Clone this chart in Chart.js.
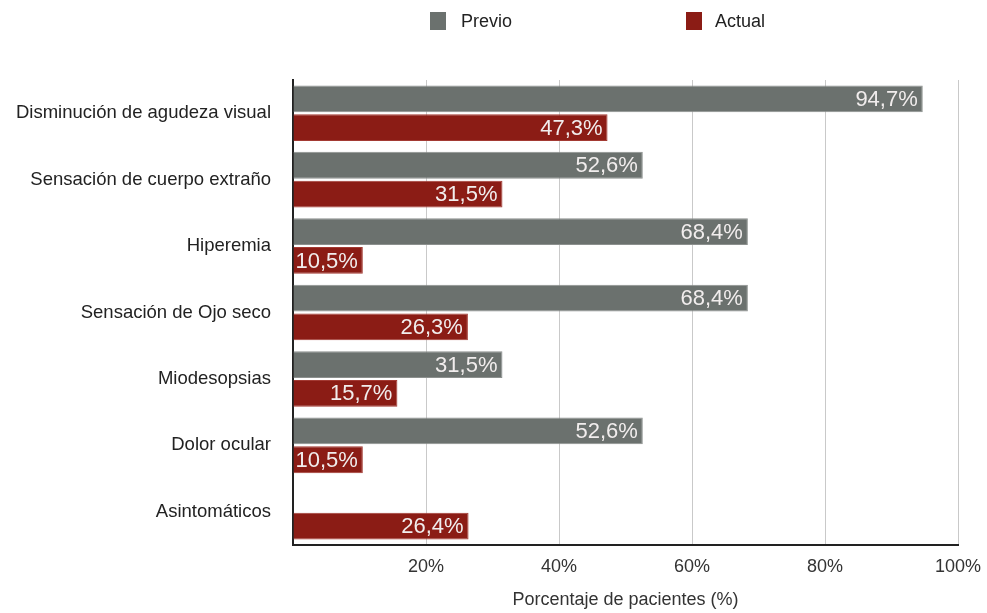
<!DOCTYPE html>
<html>
<head>
<meta charset="utf-8">
<script src="https://cdn.jsdelivr.net/npm/chart.js@4/dist/chart.umd.min.js"></script>
<style>
  body { margin: 0; background: #fff; }
  #wrap { position: relative; width: 987px; height: 613px; font-family: "Liberation Sans", Arial, Helvetica, sans-serif; }
  .key { position: absolute; top: 10px; font-size: 18px; color: #222; line-height: 22px; }
  .key i { position: absolute; left: 0; top: 2px; width: 16px; height: 18px; }
  .key span { position: absolute; white-space: nowrap; }
</style>
</head>
<body>
<div id="wrap">
  <canvas id="chart" width="987" height="613"></canvas>
  <div class="key" style="left:430px"><i style="background:#6b716e"></i><span style="left:31px">Previo</span></div>
  <div class="key" style="left:686px"><i style="background:#8b1c15"></i><span style="left:29px">Actual</span></div>
</div>
<script>
// Síntomas referidos por los pacientes
const sintomas = [
    "Disminución de agudeza visual",
    "Sensación de cuerpo extraño",
    "Hiperemia",
    "Sensación de Ojo seco",
    "Miodesopsias",
    "Dolor ocular",
    "Asintomáticos"
];
const previo = [94.7, 52.6, 68.4, 68.4, 31.5, 52.6, null];
const actual = [47.3, 31.5, 10.5, 26.3, 15.7, 10.5, 26.4];
const xTicks = [20, 40, 60, 80, 100];

const fontFamily = '"Liberation Sans", Arial, Helvetica, sans-serif';

// Valores escritos dentro de cada barra, alineados al extremo
const barValues = {
    id: "barValues",
    afterDatasetsDraw(chart) {
        const ctx = chart.ctx;
        ctx.save();
        ctx.font = "22px " + fontFamily;
        ctx.fillStyle = "#f1eded";
        ctx.textAlign = "right";
        ctx.textBaseline = "middle";
        chart.data.datasets.forEach((ds, i) => {
            chart.getDatasetMeta(i).data.forEach((bar, j) => {
                const v = ds.data[j];
                if (v == null) return;
                ctx.fillText(v.toFixed(1).replace(".", ",") + "%", bar.x - 5, bar.y + 1);
            });
        });
        ctx.restore();
    }
};

new Chart(document.getElementById("chart"), {
    type: "bar",
    data: {
        labels: sintomas,
        datasets: [
            {
                label: "Previo",
                data: previo,
                backgroundColor: "#6b716e",
                borderColor: "#8c908e",
                borderWidth: 1,
                categoryPercentage: 0.867,
                barPercentage: 0.93
            },
            {
                label: "Actual",
                data: actual,
                backgroundColor: "#8b1c15",
                borderColor: "#a33a33",
                borderWidth: 1,
                categoryPercentage: 0.867,
                barPercentage: 0.93
            }
        ]
    },
    options: {
        indexAxis: "y",
        responsive: false,
        animation: false,
        layout: { padding: { top: 80, right: 29, left: 0, bottom: 0 } },
        plugins: {
            legend: { display: false },
            tooltip: { enabled: false }
        },
        scales: {
            x: {
                min: 0,
                max: 100,
                afterBuildTicks: scale => {
                    scale.ticks = [{ value: 0 }].concat(xTicks.map(v => ({ value: v })));
                },
                grid: {
                    color: c => (c.tick && c.tick.value === 0) ? "rgba(0,0,0,0)" : "#c9c9c9",
                    lineWidth: 1,
                    drawTicks: false
                },
                border: { color: "#222", width: 2 },
                ticks: {
                    padding: 11,
                    color: "#333",
                    font: { family: fontFamily, size: 18 },
                    callback: v => v === 0 ? "" : v + "%"
                },
                title: {
                    display: true,
                    text: "Porcentaje de pacientes (%)",
                    color: "#333",
                    font: { family: fontFamily, size: 18 },
                    padding: { top: 4, bottom: 2 }
                },
                afterFit: scale => {
                    scale.height = 68;
                    scale.paddingLeft = 0;
                    scale.paddingRight = 0;
                }
            },
            y: {
                grid: { display: false, drawTicks: false },
                border: { color: "#222", width: 2 },
                ticks: {
                    padding: 22,
                    color: "#222",
                    font: { family: fontFamily, size: 18.5 }
                },
                afterFit: scale => { scale.width = 293; }
            }
        }
    },
    plugins: [barValues]
});
</script>
</body>
</html>
